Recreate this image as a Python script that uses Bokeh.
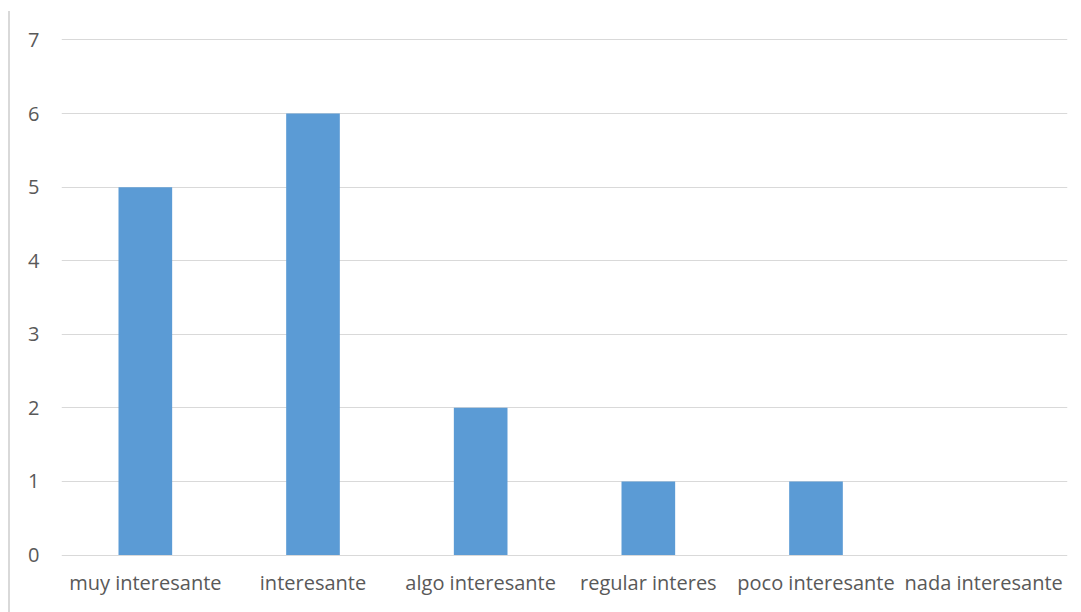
from bokeh.plotting import figure
from bokeh.models import Range1d, FixedTicker, InlineStyleSheet
from bokeh.embed import file_html
from bokeh.resources import INLINE

# Survey answers and how many people gave each one
categories = ["muy interesante", "interesante", "algo interesante",
              "regular interes", "poco interesante", "nada interesante"]
counts = [5, 6, 2, 1, 1, 0]
y_ticks = [0, 1, 2, 3, 4, 5, 6, 7]

BAR = "#5b9bd5"
GRID = "#d9d9d9"
TEXT = "#595959"
FONT = "Open Sans"

# a hair of padding so the 0 and 7 grid lines are not dropped at the range ends
p = figure(x_range=categories, y_range=Range1d(-0.02, 7.02),
           width=1081, height=612, output_backend="svg",
           toolbar_location=None,
           min_border_left=61, min_border_right=14,
           min_border_top=38, min_border_bottom=56)

p.vbar(x=categories, top=counts, width=0.32, color=BAR, line_color=None)

p.outline_line_color = None
p.background_fill_color = "white"
p.border_fill_color = "white"

p.xgrid.grid_line_color = None
p.ygrid.grid_line_color = GRID
p.ygrid.grid_line_width = 1
p.ygrid.ticker = FixedTicker(ticks=y_ticks)

p.yaxis.ticker = FixedTicker(ticks=y_ticks)
p.yaxis.axis_line_color = None
p.yaxis.major_tick_line_color = None
p.yaxis.minor_tick_line_color = None
p.yaxis.major_label_standoff = 16
p.yaxis.major_label_text_font = FONT
p.yaxis.major_label_text_font_size = "20px"
p.yaxis.major_label_text_color = TEXT

p.xaxis.axis_line_color = None
p.xaxis.major_tick_line_color = None
p.xaxis.minor_tick_line_color = None
p.xaxis.major_label_standoff = 6
p.xaxis.major_label_text_font = FONT
p.xaxis.major_label_text_font_size = "20px"
p.xaxis.major_label_text_color = TEXT

# thin vertical rule along the left edge of the chart
p.stylesheets = [InlineStyleSheet(css="""
:host { position: relative; }
:host::after {
  content: "";
  position: absolute;
  left: 8px; top: 11px;
  width: 2px; height: 601px;
  background: #d9d9d9;
  z-index: 10;
  pointer-events: none;
}
""")]

open("out.html", "w").write(file_html(p, INLINE))
